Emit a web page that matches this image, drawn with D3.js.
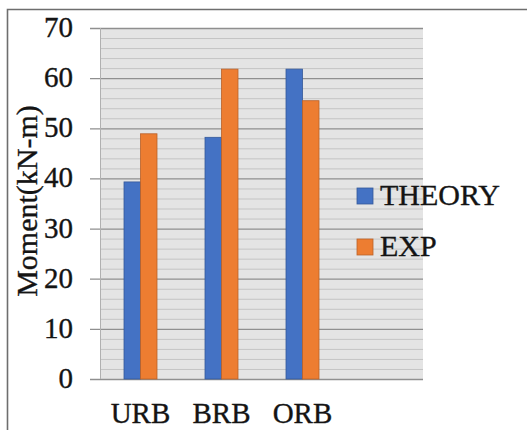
<!DOCTYPE html>
<html><head><meta charset="utf-8">
<script src="https://cdn.jsdelivr.net/npm/d3@7/dist/d3.min.js"></script>
<style>body{margin:0;background:#fff}svg{display:block}text{font-family:"Liberation Serif","Times New Roman",serif;fill:#141414;stroke:#141414;stroke-width:0.35}</style>
</head><body>
<script>
const categories = ["URB", "BRB", "ORB"];
const seriesNames = ["THEORY", "EXP"];
const theory = [39.3, 48.2, 61.8];
const exp = [48.9, 61.8, 55.5];
const yTicks = [0, 10, 20, 30, 40, 50, 60, 70];
const colors = ["#4472C4", "#ED7D31"];
const strokes = ["#35599a", "#b9612a"];

const W = 527, H = 430;
const svg = d3.select("body").append("svg").attr("width", W).attr("height", H);

// frame
svg.append("path").attr("d", "M7.5,430 V9.5 H527").attr("fill", "none").attr("stroke", "#6e6e6e").attr("stroke-width", 1.6);

const plotL = 100, plotR = 423, plotT = 28, plotB = 379;
const y = d3.scaleLinear().domain([0, 70]).range([plotB, plotT]);
const x = d3.scaleBand().domain(categories).range([plotL, plotL + 81 * 3]).padding(0);
const xi = d3.scaleBand().domain(seriesNames).range([0, 33]);

svg.append("rect").attr("x", plotL).attr("y", plotT).attr("width", plotR - plotL).attr("height", plotB - plotT).attr("fill", "#e4e4e4");

// minor grid
const minor = d3.range(0, 71, 2).filter(v => v % 10 !== 0);
svg.append("g").selectAll("line").data(minor).join("line")
  .attr("x1", plotL).attr("x2", plotR).attr("y1", d => y(d) + 0.5).attr("y2", d => y(d) + 0.5)
  .attr("stroke", "#c4c4c4").attr("stroke-width", 1);

// major grid with ticks
svg.append("g").selectAll("line").data(yTicks).join("line")
  .attr("x1", 90).attr("x2", plotR).attr("y1", d => y(d) + 0.5).attr("y2", d => y(d) + 0.5)
  .attr("stroke", "#8f8f8f").attr("stroke-width", 1.3);

// axis line
svg.append("line").attr("x1", plotL + 0.5).attr("x2", plotL + 0.5).attr("y1", plotT).attr("y2", plotB)
  .attr("stroke", "#b0b0b0").attr("stroke-width", 1);

// bars
const data = categories.map((c, i) => ({c, vals: [theory[i], exp[i]]}));
const grp = svg.append("g").selectAll("g").data(data).join("g")
  .attr("transform", d => `translate(${x(d.c) + x.bandwidth() / 2 - 16.5},0)`);
grp.selectAll("rect").data(d => d.vals.map((v, j) => ({v, s: seriesNames[j], j}))).join("rect")
  .attr("x", d => xi(d.s)).attr("width", xi.bandwidth())
  .attr("y", d => y(d.v)).attr("height", d => plotB - y(d.v))
  .attr("fill", d => colors[d.j]).attr("stroke", d => strokes[d.j]).attr("stroke-width", 0.8);

// y tick labels
svg.append("g").selectAll("text").data(yTicks).join("text")
  .attr("x", 73).attr("y", d => y(d) + 9).attr("text-anchor", "end")
  .attr("font-size", 29).text(d => d);

// x labels
svg.append("g").selectAll("text").data(categories).join("text")
  .attr("x", d => x(d) + x.bandwidth() / 2).attr("y", 423).attr("text-anchor", "middle")
  .attr("font-size", 29).text(d => d);

// y title
svg.append("text").attr("transform", "translate(37,201) rotate(-90)").attr("text-anchor", "middle")
  .attr("font-size", 30).text("Moment(kN-m)");

// legend
const lg = svg.append("g").selectAll("g").data(seriesNames).join("g")
  .attr("transform", (d, i) => `translate(357,${188 + i * 51})`);
lg.append("rect").attr("width", 16).attr("height", 16).attr("fill", (d, i) => colors[i]).attr("stroke", (d, i) => strokes[i]).attr("stroke-width", 0.8);
lg.append("text").attr("x", 23).attr("y", 17).attr("font-size", 30).text(d => d);
</script>
</body></html>
